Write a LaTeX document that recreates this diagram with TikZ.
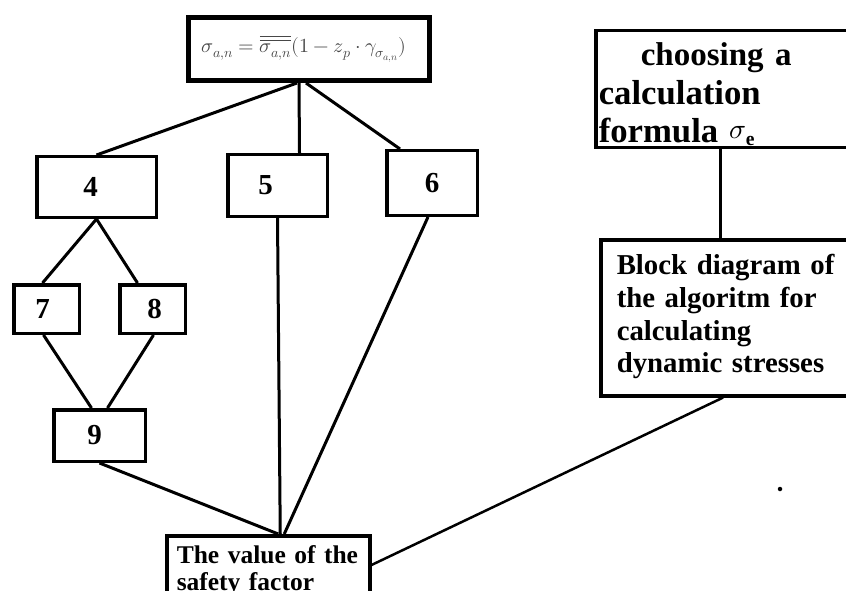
\documentclass[tikz,border=0pt]{standalone}
\usepackage{fontspec}
\usepackage{unicode-math}
\setmainfont{Liberation Serif}
\setmathfont{Latin Modern Math}
\usepackage{tikz}
\usetikzlibrary{positioning,calc}

\begin{document}
\begin{tikzpicture}[x=1pt,y=-1pt,
                    box/.style={draw,line width=3.5pt,inner sep=0pt},
                    num node/.style={box,font=\fontsize{29}{32}\selectfont\bfseries},
                    text box/.style={box,anchor=north west,align=left,inner ysep=0pt,
                    font=\bfseries}]

\useasboundingbox (0,0) rectangle (846,591);

% formula on top
\node[box,line width=5pt,minimum width=241pt,minimum height=63pt,
      text=black!72,font=\fontsize{20}{22}\selectfont] (F) at (309,49)
      {\hspace*{-10pt}$\sigma_{a,n}=\overline{\overline{\sigma_{a,n}}}(1-z_p\cdot\gamma_{\sigma_{a,n}})$};

\node[num node,minimum width=119.5pt,minimum height=60.5pt] (n4) at (96.5,187) {\hspace*{-12pt}\raisebox{-3pt}{4}};
\node[num node,minimum width=99.5pt,minimum height=61.5pt] (n5) at (277.5,185.5) {\hspace*{-24pt}5};
\node[num node,minimum width=90.5pt,minimum height=64.5pt] (n6) at (432,183) {6};
\node[num node,minimum width=65.5pt,minimum height=48.5pt] (n7) at (46.5,309) {\hspace*{-8pt}\raisebox{-2pt}{7}};
\node[num node,minimum width=65.5pt,minimum height=48.5pt] (n8) at (152.5,309) {8\hspace*{-4pt}};
\node[num node,minimum width=91.5pt,minimum height=51.5pt] (n9) at (99.5,435.5) {\hspace*{-10pt}9};

% right column
\node[text box,text width=260pt,inner xsep=3pt,
      font=\fontsize{34.7}{38.5}\selectfont\bfseries] (choose) at (594,29)
      {\rule{0pt}{35pt}\hspace*{42pt}{\fontsize{33}{38.5}\selectfont choosing a}\\
       calculation\\
       formula \smash{\raisebox{4pt}{\fontsize{28}{30}\selectfont$\sigma_{\mathbf{e}}$}}\rule[-5pt]{0pt}{5pt}};
\node[text box,text width=240pt,inner xsep=16pt,
      font=\fontsize{28.8}{32.7}\selectfont\bfseries] (block) at (599,238)
      {\rule{0pt}{35pt}Block diagram of\\
       the algoritm for\\
       calculating\\
       dynamic stresses\rule[-23pt]{0pt}{23pt}};

% result
\node[text box,text width=183pt,inner xsep=10pt,
      font=\fontsize{25.5}{27}\selectfont\bfseries] (V) at (165,534)
      {\rule{0pt}{28pt}The value of the\\
       safety factor\rule[-40pt]{0pt}{40pt}};

\node[circle,fill,inner sep=0pt,minimum size=4.5pt] (dot) at (780,489) {};

\path[every edge/.style={draw,line width=3pt}]
    ([xshift=-12pt]F.south) edge (n4.north)
    ([xshift=-10pt]F.south) edge ([xshift=22pt]n5.north)
    ([xshift=-3pt]F.south)  edge ([xshift=-32pt]n6.north)
    (n4.south) edge ([xshift=-4pt]n7.north)
               edge ([xshift=-15pt]n8.north)
    ([xshift=-3pt]n7.south) edge ([xshift=-8pt]n9.north)
    ([xshift=1pt]n8.south)  edge ([xshift=8pt]n9.north)
    (n9.south) edge ([xshift=10pt]V.north)
    (n5.south) edge ([xshift=12pt]V.north)
    ([xshift=-4pt]n6.south) edge ([xshift=16pt]V.north)
    ([xshift=126pt]choose.south west) edge ([xshift=121pt]block.north west);

\path[every edge/.style={draw,line width=2.5pt}]
    ([xshift=124pt]block.south west) edge ([yshift=-31pt]V.north east);

\end{tikzpicture}
\end{document}
